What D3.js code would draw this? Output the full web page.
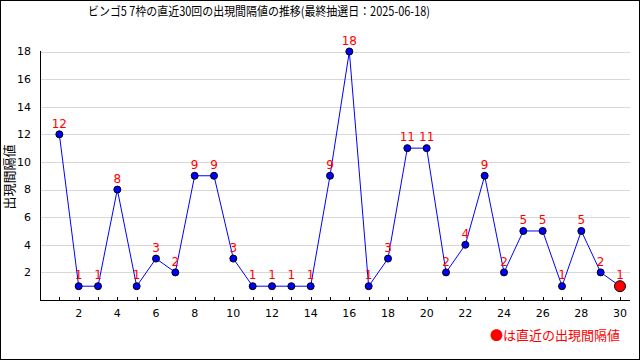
<!DOCTYPE html>
<html><head><meta charset="utf-8">
<script src="https://cdn.jsdelivr.net/npm/d3@7"></script>
<style>body{margin:0;background:#fff}svg{display:block}</style>
</head><body>
<script>
const title = "ビンゴ5 7枠の直近30回の出現間隔値の推移(最終抽選日：2025-06-18)";
const yLabel = "出現間隔値";
const legendText = "●は直近の出現間隔値";
const draws = d3.range(1, 31);
const values = [12,1,1,8,1,3,2,9,9,3,1,1,1,1,9,18,1,3,11,11,2,4,9,2,5,5,1,5,2,1];
const yTicks = [2,4,6,8,10,12,14,16,18];
const xTickLabels = [2,4,6,8,10,12,14,16,18,20,22,24,26,28,30];

const W = 640, H = 360;
const svg = d3.select("body").append("svg").attr("width", W).attr("height", H);
const font = "'DejaVu Sans', sans-serif";
const cjk = "'Noto Sans CJK JP', sans-serif";

svg.append("rect").attr("x",0.5).attr("y",0.5).attr("width",W-1).attr("height",H-1)
  .attr("fill","#fff").attr("stroke","#000");

const x = d3.scaleLinear().domain([0,30]).range([40,620]);
const y = d3.scaleLinear().domain([0,18]).range([300,51.5]);

// grid
svg.append("g").selectAll("line").data(yTicks).join("line")
  .attr("x1",40).attr("x2",630).attr("y1",d=>Math.round(y(d))+0.5).attr("y2",d=>Math.round(y(d))+0.5)
  .attr("stroke","#d8d8d8");

// y labels
svg.append("g").selectAll("text").data(yTicks).join("text")
  .attr("x",31).attr("y",d=>y(d)).attr("dy","0.35em").attr("text-anchor","end")
  .attr("font-family",font).attr("font-size",11).text(d=>d);

// axes lines
svg.append("line").attr("x1",40.5).attr("x2",40.5).attr("y1",51).attr("y2",300.5).attr("stroke","#000");
svg.append("line").attr("x1",40).attr("x2",630).attr("y1",300.5).attr("y2",300.5).attr("stroke","#000");

// x ticks
svg.append("g").selectAll("line").data(draws).join("line")
  .attr("x1",d=>Math.round(x(d))+0.5).attr("x2",d=>Math.round(x(d))+0.5)
  .attr("y1",297).attr("y2",300).attr("stroke","#000");
svg.append("g").selectAll("text").data(xTickLabels).join("text")
  .attr("x",d=>x(d)).attr("y",313).attr("dy","0.35em").attr("text-anchor","middle")
  .attr("font-family",font).attr("font-size",11).text(d=>d);

// line
const line = d3.line().x((d,i)=>x(draws[i])).y(d=>y(d));
svg.append("path").datum(values).attr("d",line).attr("fill","none").attr("stroke","#0000ff").attr("stroke-width",1);

// points
svg.append("g").selectAll("circle").data(values).join("circle")
  .attr("cx",(d,i)=>x(draws[i])).attr("cy",d=>y(d))
  .attr("r",(d,i)=>i===values.length-1?5.5:3.5)
  .attr("fill",(d,i)=>i===values.length-1?"#ff0000":"#0000ff")
  .attr("stroke","#000").attr("stroke-width",1);

// value labels
svg.append("g").selectAll("text").data(values).join("text")
  .attr("x",(d,i)=>x(draws[i])).attr("y",d=>y(d)-11).attr("dy","0.35em")
  .attr("text-anchor","middle").attr("font-family",font).attr("font-size",12)
  .attr("fill","#ff0000").text(d=>d);

// title
svg.append("text").attr("x",88).attr("y",12).attr("dy","0.35em").attr("text-anchor","start")
  .attr("font-family",cjk).attr("font-size",12.5)
  .attr("textLength",342).attr("lengthAdjust","spacingAndGlyphs").text(title);

// y label
svg.append("text").attr("transform","translate(9,177) rotate(-90)").attr("dy","0.35em")
  .attr("text-anchor","middle").attr("font-family",cjk).attr("font-size",13).text(yLabel);

// legend
svg.append("text").attr("x",620).attr("y",335).attr("dy","0.35em").attr("text-anchor","end")
  .attr("font-family",cjk).attr("font-size",13).attr("fill","#ff0000").text(legendText);
</script>
</body></html>
